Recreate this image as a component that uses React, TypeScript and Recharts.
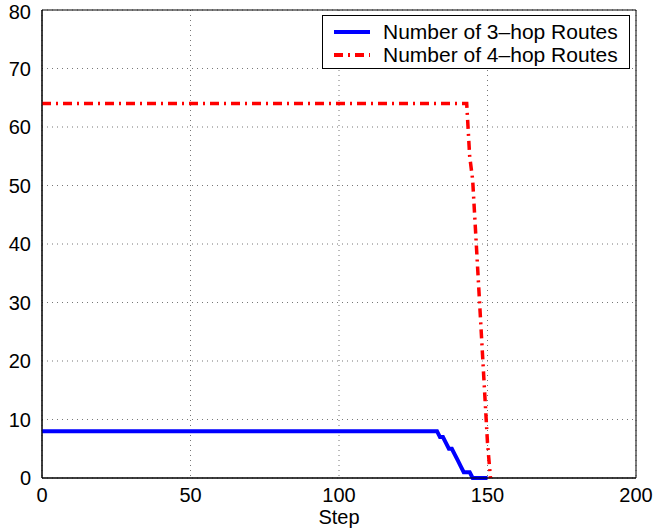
import React from 'react';
import { LineChart, Line, XAxis, YAxis, CartesianGrid, ReferenceArea } from 'recharts';

// breakpoints (step, value)
const threeHopSteps = [0, 133, 134, 135, 136, 137, 138, 139, 140, 141, 142, 143, 144, 145, 150];
const threeHopCounts = [8, 8, 7, 7, 6, 5, 5, 4, 3, 2, 1, 1, 1, 0, 0];

const fourHopSteps = [0, 143, 144, 145, 146, 147, 148, 149, 150, 151];
const fourHopCounts = [64, 64, 55, 51, 42, 33, 24, 15, 6, 0];

const xTicks = [0, 50, 100, 150, 200];
const yTicks = [0, 10, 20, 30, 40, 50, 60, 70, 80];

const threeHop = threeHopSteps.map((s, i) => ({ step: s, value: threeHopCounts[i] }));
const fourHop = fourHopSteps.map((s, i) => ({ step: s, value: fourHopCounts[i] }));

const FONT = '"Liberation Sans", Arial, Helvetica, sans-serif';
const RED_DASH = '9 5 2 5';

function LegendBox() {
  const row = (top: number, color: string, dash: string | undefined, label: string) => (
    <div style={{ position: 'absolute', left: 0, top, height: 22, display: 'flex', alignItems: 'center' }}>
      <svg width={36} height={10} style={{ marginLeft: 11, marginRight: 13 }}>
        <line x1={0} y1={5} x2={36} y2={5} stroke={color} strokeWidth={4} strokeDasharray={dash} />
      </svg>
      <span style={{ whiteSpace: 'nowrap' }}>{label}</span>
    </div>
  );
  return (
    <div
      style={{
        position: 'absolute',
        left: 322,
        top: 15,
        width: 308,
        height: 54,
        boxSizing: 'border-box',
        border: '1px solid #000',
        background: '#fff',
        fontFamily: FONT,
        fontSize: 21,
        color: '#000',
      }}
    >
      {row(5, '#0000ff', undefined, 'Number of 3\u2013hop Routes')}
      {row(28, '#ff0000', RED_DASH, 'Number of 4\u2013hop Routes')}
    </div>
  );
}

export default function App() {
  return (
    <div style={{ position: 'absolute', left: 0, top: 0, width: 655, height: 531, background: '#fff' }}>
      <LineChart width={655} height={531} margin={{ top: 10, right: 19, left: 8, bottom: 0 }}>
        <CartesianGrid stroke="#777" strokeDasharray="1 4" />
        <XAxis
          type="number"
          dataKey="step"
          domain={[0, 200]}
          ticks={xTicks}
          allowDuplicatedCategory={false}
          height={53}
          tickLine={false}
          axisLine={{ stroke: '#000' }}
          tick={{ fill: '#000', fontSize: 20, fontFamily: FONT }}
          tickMargin={4}
          label={{ value: 'Step', position: 'insideBottom', offset: 7, fill: '#000', fontSize: 20, fontFamily: FONT }}
        />
        <YAxis
          type="number"
          domain={[0, 80]}
          ticks={yTicks}
          width={34}
          tickLine={false}
          axisLine={{ stroke: '#000' }}
          tick={{ fill: '#000', fontSize: 20, fontFamily: FONT }}
          tickMargin={5}
        />
        <ReferenceArea x1={0} x2={200} y1={0} y2={80} fill="none" stroke="#000" strokeWidth={1} ifOverflow="visible" />
        <Line
          data={threeHop}
          dataKey="value"
          stroke="#0000ff"
          strokeWidth={4}
          dot={false}
          isAnimationActive={false}
          name="Number of 3-hop Routes"
        />
        <Line
          data={fourHop}
          dataKey="value"
          stroke="#ff0000"
          strokeWidth={3.5}
          strokeDasharray={RED_DASH}
          dot={false}
          isAnimationActive={false}
          name="Number of 4-hop Routes"
        />
      </LineChart>
      <LegendBox />
    </div>
  );
}
